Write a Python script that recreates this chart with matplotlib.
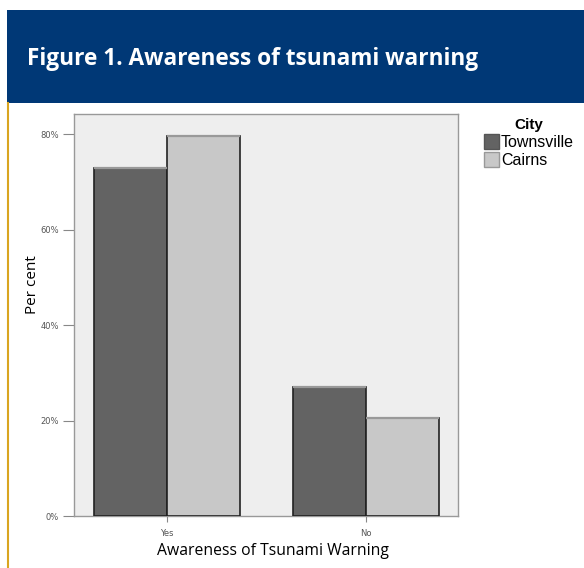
import matplotlib
matplotlib.use("Agg")
import matplotlib.pyplot as plt
from matplotlib.patches import Rectangle, Patch
from matplotlib.lines import Line2D
import numpy as np

categories = ["Yes", "No"]
cities = ["Townsville", "Cairns"]
townsville = [72.9, 27.0]
cairns = [79.6, 20.5]
yticks = [0, 20, 40, 60, 80]
colors = ["#636363", "#c8c8c8"]

W, H = 584, 568
fig = plt.figure(figsize=(W / 100, H / 100), dpi=100)
fig.patch.set_facecolor("white")

# header band
fig.patches.append(Rectangle((7 / W, 1 - 103 / H), (W - 7) / W, 93 / H,
                             transform=fig.transFigure, facecolor="#003876",
                             edgecolor="none", zorder=0))
fig.text(27 / W, 1 - 59 / H, "Figure 1. Awareness of tsunami warning",
         color="white", fontsize=16.3, fontweight="bold",
         family="Open Sans", va="center", ha="left")
# gold line at left
fig.add_artist(Line2D([7.5 / W, 7.5 / W], [0, 1 - 103 / H],
                      transform=fig.transFigure, color="#d9a520", lw=1.5))

left, right, top, bottom = 74, 458, 114, 516
ax = fig.add_axes([left / W, 1 - bottom / H, (right - left) / W, (bottom - top) / H])
ax.set_facecolor("#eeeeee")

x = np.arange(len(categories))
w = 0.367
ax.bar(x - w / 2, townsville, w, color=colors[0], edgecolor="#222222", linewidth=1.2, zorder=3)
ax.bar(x + w / 2, cairns, w, color=colors[1], edgecolor="#222222", linewidth=1.2, zorder=3)
# lighter top caps
for xs, vals in ((x - w / 2, townsville), (x + w / 2, cairns)):
    for xi, v in zip(xs, vals):
        ax.plot([xi - w / 2, xi + w / 2], [v, v], color="#999999", lw=1.6, zorder=4,
                solid_capstyle="butt")

ax.set_xlim(-0.467, 1.462)
ax.set_ylim(0, 84.2)
ax.set_yticks(yticks)
ax.set_yticklabels([f"{t}%" for t in yticks], fontsize=6, color="#555555", family="DejaVu Sans")
ax.set_xticks(x)
ax.set_xticklabels(categories, fontsize=6, color="#555555", family="DejaVu Sans")
ax.tick_params(axis="y", color="#888888", length=8, width=0.8, pad=3)
ax.tick_params(axis="x", color="#888888", length=4, width=0.8, pad=5)
for s in ax.spines.values():
    s.set_color("#999999")
    s.set_linewidth(1.0)

ax.set_ylabel("Per cent", fontsize=11, family="Open Sans")
ax.yaxis.set_label_coords((40 - left) / (right - left), (bottom - 285) / (bottom - top))
ax.set_xlabel("Awareness of Tsunami Warning", fontsize=11.3, family="Open Sans")
ax.xaxis.set_label_coords((273 - left) / (right - left), -(27 / (bottom - top)))

handles = [Patch(facecolor=colors[0], edgecolor="#555555"),
           Patch(facecolor=colors[1], edgecolor="#999999")]
leg = fig.legend(handles, cities, title="City", loc="upper left",
                 bbox_to_anchor=(473 / W, 1 - 107 / H), frameon=False,
                 prop={"family": "Liberation Sans", "size": 11.5},
                 handlelength=0.95, handleheight=1.1, handletextpad=0.1,
                 labelspacing=0.12, borderpad=0.2)
leg.get_title().set_fontweight("bold")
leg.get_title().set_family("Liberation Sans")
leg.get_title().set_fontsize(11)
leg._legend_box.align = "center"

fig.savefig("out.png", dpi=100)
